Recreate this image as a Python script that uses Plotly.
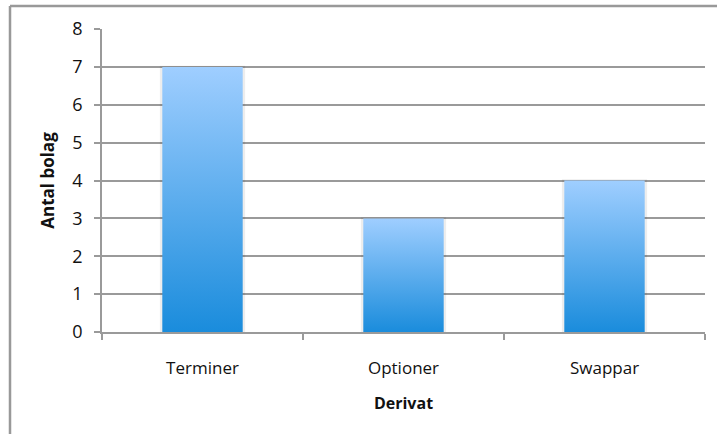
import plotly.graph_objects as go

categories = ["Terminer", "Optioner", "Swappar"]
values = [7, 3, 4]
y_ticks = [0, 1, 2, 3, 4, 5, 6, 7, 8]

W, H = 717, 434
L, R, T, B = 102, 12, 29, 102
half = 0.2
grid = "#9a9a9a"

fig = go.Figure()
for i, (c, v) in enumerate(zip(categories, values)):
    # soft shadow
    fig.add_trace(go.Scatter(
        x=[i - half - 0.012, i + half + 0.012, i + half + 0.012, i - half - 0.012, i - half - 0.012],
        y=[0, 0, v + 0.03, v + 0.03, 0],
        fill="toself", fillcolor="rgba(0,0,0,0.07)", line=dict(width=0),
        mode="lines", hoverinfo="skip", showlegend=False))
    fig.add_trace(go.Scatter(
        x=[i - half, i + half, i + half, i - half, i - half],
        y=[0, 0, v, v, 0],
        fill="toself",
        fillgradient=dict(type="vertical",
                          colorscale=[[0, "#1a8cdc"], [1, "#9fceff"]]),
        line=dict(width=0), mode="lines", name=c, showlegend=False))

fig.update_layout(
    width=W, height=H,
    margin=dict(l=L, r=R, t=T, b=B),
    paper_bgcolor="white", plot_bgcolor="white",
    font=dict(family="Open Sans, Lato, sans-serif", size=17, color="#111"),
    xaxis=dict(range=[-0.5, 2.5], tickvals=[0, 1, 2], ticktext=categories,
               ticks="", showgrid=False, zeroline=False,
               showline=True, linecolor=grid, linewidth=1.5,
               tickfont=dict(size=17),
               ticklabelstandoff=20,
               minor=dict(tickvals=[-0.5, 0.5, 1.5, 2.5], ticks="outside",
                          ticklen=6, tickcolor=grid, tickwidth=1.5, showgrid=False),
               title=dict(text="<b>Derivat</b>", standoff=20, font=dict(size=16))),
    yaxis=dict(range=[0, 8], tickvals=y_ticks, ticks="outside", ticklen=6,
               tickcolor=grid, tickwidth=1.5, showgrid=True, gridcolor=grid,
               gridwidth=1.5, zeroline=False, showline=True, linecolor=grid,
               linewidth=1.5, ticklabelstandoff=8,
               tickfont=dict(size=18),
               title=dict(text="<b>Antal bolag</b>", standoff=13, font=dict(size=17))),
)

pw, ph = W - L - R, H - T - B
xl = (10 - L) / pw
yt = 1 + (T - 6) / ph
fig.add_shape(type="line", xref="paper", yref="paper", x0=xl, x1=xl, y0=-1, y1=yt,
              line=dict(color="#999999", width=2.5))
fig.add_shape(type="line", xref="paper", yref="paper", x0=xl, x1=1.2, y0=yt, y1=yt,
              line=dict(color="#999999", width=2.5))

fig.write_html("out.html")
